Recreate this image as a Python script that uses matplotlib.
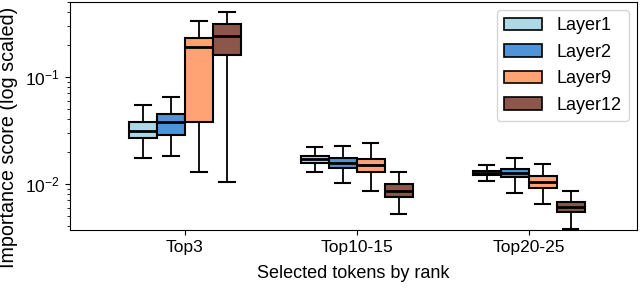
import matplotlib
matplotlib.use("Agg")
import matplotlib.pyplot as plt
from matplotlib.patches import Patch

plt.rcParams["font.family"] = ["Liberation Sans", "DejaVu Sans"]
plt.rcParams["mathtext.default"] = "regular"

groups = ["Top3", "Top10-15", "Top20-25"]
layers = ["Layer1", "Layer2", "Layer9", "Layer12"]
colors = ["#add8e6", "#4f93d8", "#ffa274", "#8c564b"]

# per layer, per group: (whislo, q1, median, q3, whishi)
layer1 = [(0.0176, 0.0269, 0.0315, 0.0377, 0.0544),
          (0.0130, 0.0158, 0.0170, 0.0183, 0.0220),
          (0.0106, 0.0122, 0.0127, 0.0133, 0.0150)]
layer2 = [(0.0183, 0.0285, 0.0377, 0.0454, 0.0650),
          (0.0102, 0.0141, 0.0156, 0.0174, 0.0227),
          (0.0082, 0.0116, 0.0127, 0.0139, 0.0176)]
layer9 = [(0.0129, 0.0377, 0.192, 0.231, 0.332),
          (0.0085, 0.0129, 0.0150, 0.0171, 0.0243),
          (0.0065, 0.0092, 0.0105, 0.0119, 0.0153)]
layer12 = [(0.0104, 0.161, 0.241, 0.311, 0.403),
           (0.0052, 0.0075, 0.0086, 0.0099, 0.0129),
           (0.0038, 0.0055, 0.0061, 0.0068, 0.0086)]
data = [layer1, layer2, layer9, layer12]

fig = plt.figure(figsize=(6.4, 2.92), dpi=100)
ax = fig.add_axes([0.109, 0.212, 0.886, 0.781])

w = 0.163
offsets = [-1.5 * w, -0.5 * w, 0.5 * w, 1.5 * w]
for li, layer in enumerate(data):
    stats = []
    for s in layer:
        stats.append(dict(whislo=s[0], q1=s[1], med=s[2], q3=s[3], whishi=s[4], fliers=[]))
    pos = [g + offsets[li] for g in range(len(groups))]
    ax.bxp(stats, positions=pos, widths=w, patch_artist=True, showfliers=False,
           capwidths=w * 0.55,
           boxprops=dict(facecolor=colors[li], edgecolor="black", linewidth=1.5),
           medianprops=dict(color="black", linewidth=2),
           whiskerprops=dict(color="black", linewidth=1.3),
           capprops=dict(color="black", linewidth=1.5))

ax.set_yscale("log")
ax.set_ylim(0.0037, 0.50)
ax.set_xlim(-0.67, 2.63)
ax.set_xticks(range(len(groups)))
ax.set_xticklabels(groups)
ax.tick_params(labelsize=12.5)
ax.set_xlabel("Selected tokens by rank", fontsize=13, labelpad=7)
ax.set_ylabel("Importance score (log scaled)", fontsize=14.2)
ax.yaxis.set_label_coords(-0.091, 0.405)

handles = [Patch(facecolor=c, edgecolor="black", linewidth=1.2) for c in colors]
ax.legend(handles, layers, loc="upper right", fontsize=13, handlelength=2.1,
          borderaxespad=0.45, labelspacing=0.52)

fig.savefig("out.png", dpi=100)
